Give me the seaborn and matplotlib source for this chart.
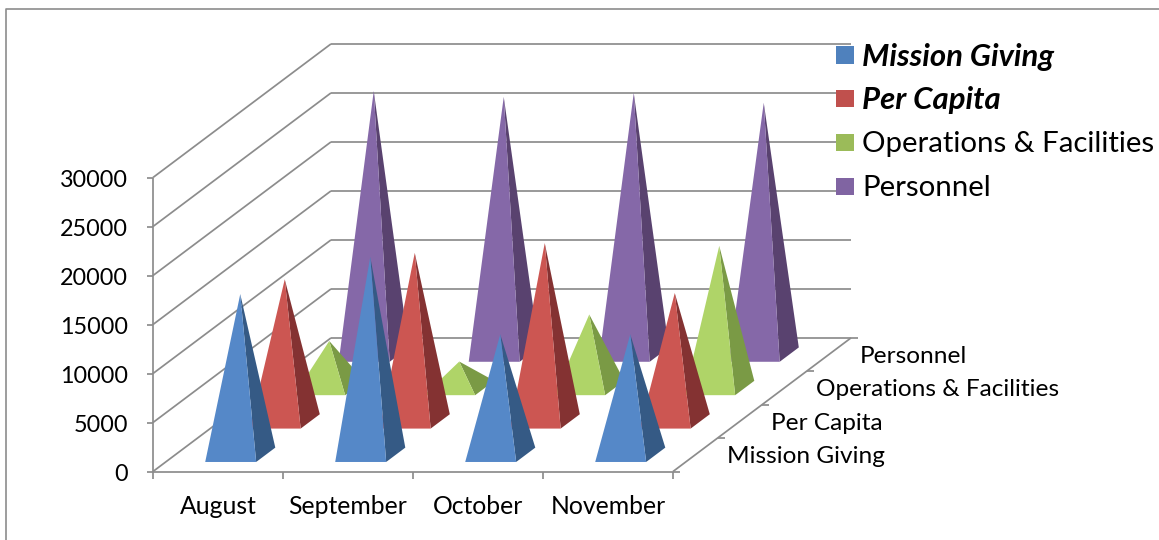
import pandas as pd
import seaborn as sns
import matplotlib.pyplot as plt

sns.set_theme(style='white')
plt.rcParams['font.family'] = ['Lato', 'DejaVu Sans']

months = ['August', 'September', 'October', 'November']
series = ['Mission Giving', 'Per Capita', 'Operations & Facilities', 'Personnel']
y_ticks = [0, 5000, 10000, 15000, 20000, 25000, 30000]

mission_giving = [16400, 20200, 12300, 12300]
per_capita = [14500, 17200, 18200, 13100]
operations = [4800, 2700, 7500, 14500]
personnel = [26900, 26300, 26700, 25700]
values = [mission_giving, per_capita, operations, personnel]

face_colors = ['#5588C8', '#CC5652', '#AFD468', '#8568A8']
side_colors = ['#355A85', '#843232', '#7A9A45', '#59426F']
legend_colors = ['#4F81BD', '#C0504D', '#9BBB59', '#8064A2']
grid_color = '#8C8C8C'


# 3D -> picture: month position, series depth, value
def project(m, d, v):
    x = 153 + m * 130 + d * 44.5
    y = 471.5 - d * 33.4 - v * 294 / 30000
    return x, y


fig = plt.figure(figsize=(11.59, 5.40), dpi=100)
ax = fig.add_axes([0, 0, 1, 1])
ax.set_xlim(0, 1159)
ax.set_ylim(540, 0)
ax.axis('off')

# frame of the chart area
ax.plot([1159, 5.5, 5.5], [8.5, 8.5, 540], color=grid_color, lw=1.2)


def line(a, b, lw=1.25):
    ax.plot([a[0], b[0]], [a[1], b[1]], color=grid_color, lw=lw, solid_capstyle='butt')


n_m = len(months)
n_d = len(series)

# walls
for v in y_ticks:
    line(project(0, 0, v), project(0, n_d, v))
    line(project(0, n_d, v), project(n_m, n_d, v))
    x, y = project(0, 0, v)
    line((x - 6, y), (x, y))
    ax.text(x - 25, y + 3, str(v), ha='right', va='center', fontsize=16.8, color='black')
line(project(0, 0, 0), project(0, 0, y_ticks[-1]))

# floor edges and ticks
line(project(0, 0, 0), project(n_m, 0, 0))
line(project(n_m, 0, 0), project(n_m, n_d, 0))
for m in range(n_m + 1):
    x, y = project(m, 0, 0)
    line((x, y), (x, y + 7))
for m, name in enumerate(months):
    x, y = project(m + 0.5, 0, 0)
    ax.text(x, 507, name, ha='center', va='center', fontsize=17.8, color='black')
for d in range(n_d + 1):
    x, y = project(n_m, d, 0)
    line((x, y), (x + 7, y))
for d, name in enumerate(series):
    x, y = project(n_m, d + 0.5, 0)
    ax.text(x + 31.5, y + 2, name, ha='left', va='center', fontsize=17.6, color='black')

# pyramids, back row first
half_w = 0.196
half_d = 0.215
for d in range(n_d - 1, -1, -1):
    for m in range(n_m):
        v = values[d][m]
        fl = project(m + 0.5 - half_w, d + 0.5 - half_d, 0)
        fr = project(m + 0.5 + half_w, d + 0.5 - half_d, 0)
        br = project(m + 0.5 + half_w, d + 0.5 + half_d, 0)
        top = project(m + 0.5, d + 0.5, v)
        ax.fill(*zip(fr, br, top), color=side_colors[d], lw=0, zorder=3)
        ax.fill(*zip(fl, fr, top), color=face_colors[d], lw=0, zorder=3)

# legend
legend_y = [55, 98.5, 142.5, 186.5]
text_y = [57, 100, 144, 188]
legend_df = pd.DataFrame({'x': [845] * n_d, 'y': legend_y, 'series': series})
sns.scatterplot(data=legend_df, x='x', y='y', hue='series', palette=legend_colors,
                marker='s', s=165, linewidth=0, legend=False, ax=ax, zorder=4)
ax.set_xlim(0, 1159)
ax.set_ylim(540, 0)
ax.axis('off')
for i, name in enumerate(series):
    bold = i < 2
    ax.text(862, text_y[i], name, ha='left', va='center', fontsize=22.4 if bold else 21.2,
            fontweight='bold' if bold else 'normal',
            fontstyle='italic' if bold else 'normal', color='black')

fig.savefig('out.png', dpi=100)
